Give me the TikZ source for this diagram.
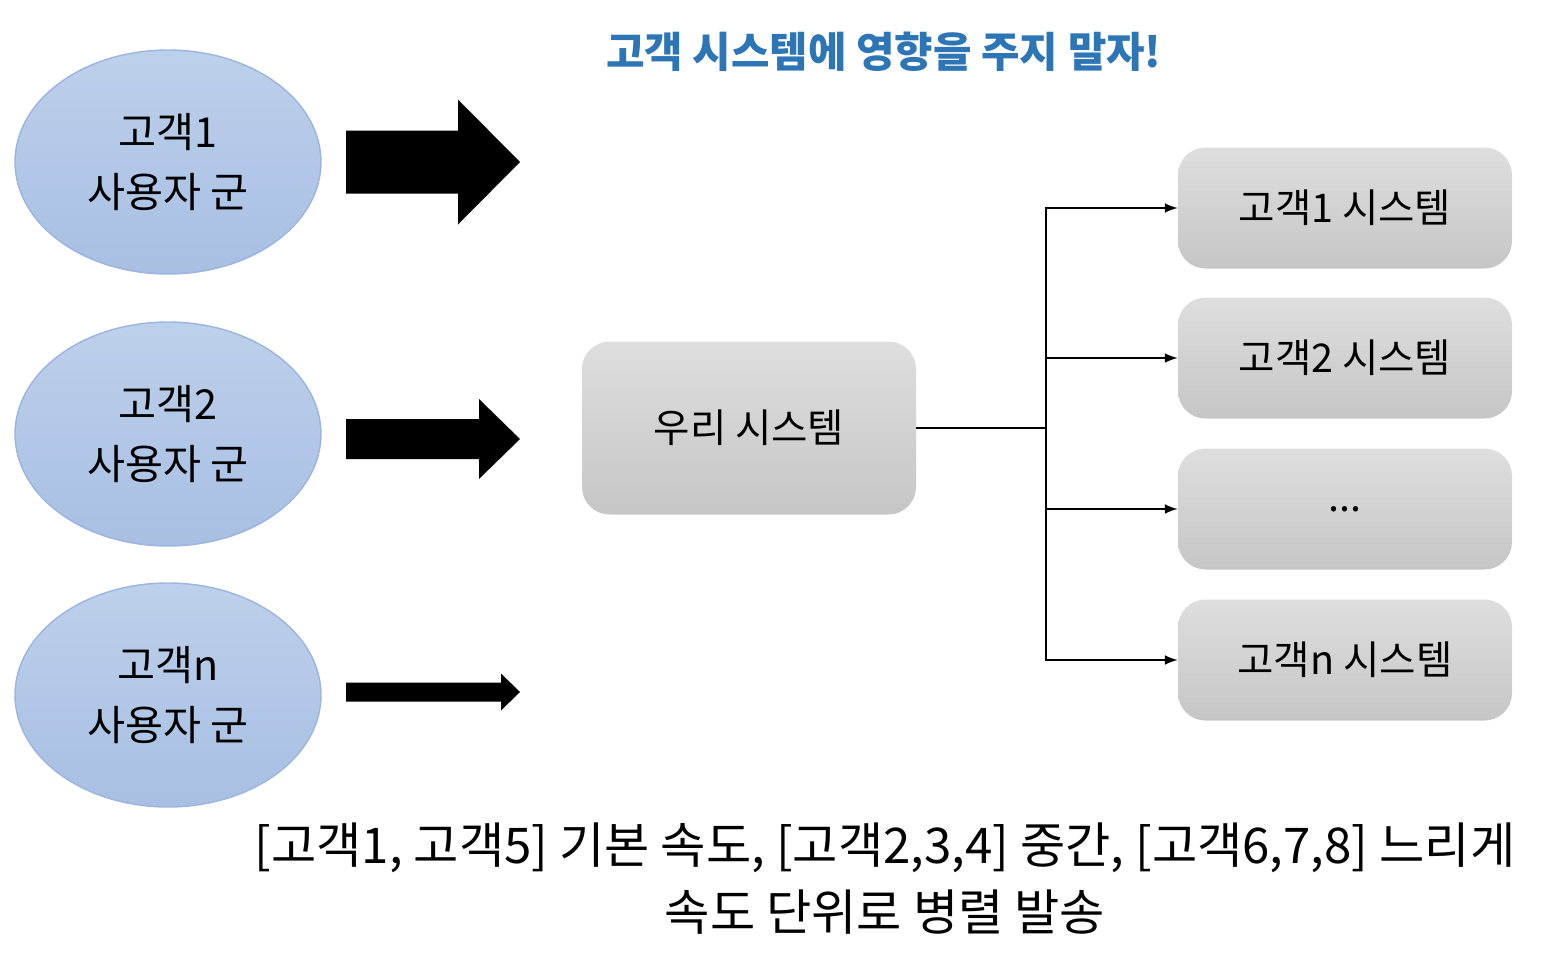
\documentclass[tikz,border=0pt]{standalone}
\usepackage{fontspec}
\setmainfont{Noto Sans CJK KR}
\usetikzlibrary{shapes.geometric}
\definecolor{titleblue}{HTML}{2E75B6}
\definecolor{grpedge}{HTML}{9DB5DE}
\definecolor{grptop}{HTML}{BDD0EB}
\definecolor{grpbot}{HTML}{A8BFE3}
\definecolor{boxtop}{HTML}{DEDEDE}
\definecolor{boxbot}{HTML}{C6C6C6}
\begin{document}
\begin{tikzpicture}[group/.style={
	ellipse, minimum width=6.12cm, minimum height=4.48cm, inner sep=0pt,
	draw=grpedge, thick, top color=grptop, bottom color=grpbot,
	align=center, font=\fontsize{23.5}{34}\selectfont},
	sys/.style={
	rectangle, minimum width=6.68cm, minimum height=2.42cm, rounded corners=5.5mm,
	top color=boxtop, bottom color=boxbot,
	font=\fontsize{22.5}{26}\selectfont},
	link/.style={line width=1.5pt, -latex}]
	\useasboundingbox (0,0) rectangle (31.2,-19.56);
	\node[font=\bfseries\fontsize{23.8}{28}\selectfont, text=titleblue] (title) at (17.68,-1.04) {고객 시스템에 영향을 주지 말자!};
	% user groups
	\node[group] (u1) at (3.36,-3.24) {고객1\\사용자 군};
	\node[group] (u2) at (3.36,-8.68) {고객2\\사용자 군};
	\node[group] (un) at (3.36,-13.9) {고객n\\사용자 군};
	% traffic arrows: y, body half, head half, head start
	\foreach \y/\b/\h/\s in {-3.24/0.63/1.25/9.16, -8.78/0.4/0.8/9.58, -13.84/0.19/0.37/10.02}
		\fill (6.92,\y+\b) -- (\s,\y+\b) -- (\s,\y+\h) -- (10.4,\y) -- (\s,\y-\h) -- (\s,\y-\b) -- (6.92,\y-\b) -- cycle;
	% systems
	\node[sys, minimum height=3.46cm] (ours) at (14.98,-8.56) {우리 시스템};
	\node[sys] (c1) at (26.9,-4.16) {고객1 시스템};
	\node[sys] (c2) at (26.9,-7.16) {고객2 시스템};
	\node[sys] (c3) at (26.9,-10.18) {...};
	\node[sys] (cn) at (26.9,-13.2) {고객n 시스템};
	\coordinate (fork) at (20.92,-8.56);
	\draw[line width=1.5pt] (ours.east) -- (fork);
	\foreach \n in {c1,c2,c3,cn}
		\draw[link] (fork) |- (\n.west);
	\node[align=center, font=\fontsize{28}{38}\selectfont] (note) at (17.7,-17.57) {[고객1, 고객5] 기본 속도, [고객2,3,4] 중간, [고객6,7,8] 느리게\\속도 단위로 병렬 발송};
\end{tikzpicture}
\end{document}
